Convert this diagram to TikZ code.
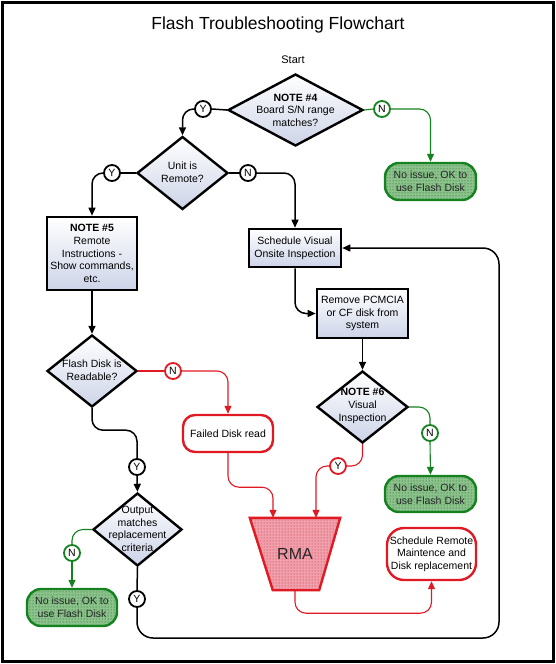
\documentclass[tikz,border=0pt]{standalone}
\usepackage{fontspec}
\setmainfont{Liberation Sans}
\usetikzlibrary{shapes.geometric,arrows.meta,calc,patterns}
\definecolor{gdk}{RGB}{20,130,30}
\definecolor{rdk}{RGB}{225,25,35}
\definecolor{bfill}{RGB}{205,212,232}
\definecolor{gfill}{RGB}{140,195,140}
\definecolor{rfill}{RGB}{238,160,172}
\begin{document}
\begin{tikzpicture}[x=1pt,y=-1pt,
  every node/.style={font=\fontsize{10.5}{12.6}\selectfont, align=center, inner sep=0pt},
  dia/.style={shape=diamond, draw, line width=2.4pt, top color=white, bottom color=bfill},
  procbox/.style={draw, line width=2.6pt, top color=white, bottom color=bfill},
  yncirc/.style={circle, draw=#1, line width=1.8pt, fill=white, minimum size=16pt, text=black},
  gterm/.style={draw=gdk, line width=2.4pt, rounded corners=14pt, preaction={fill=gfill}, pattern=dots, pattern color=gdk!70!black, text=black!85},
  rterm/.style={draw=rdk, line width=2.4pt, rounded corners=14pt, fill=white},
  blk/.style={draw=black, line width=1.5pt, rounded corners=11pt},
  grn/.style={draw=gdk, line width=1.1pt, rounded corners=11pt},
  red/.style={draw=rdk, line width=1.1pt, rounded corners=11pt},
  tip/.style={-{Triangle[length=8pt,width=7pt]}}
]
\useasboundingbox (0,0) rectangle (556,664);
\draw[line width=3pt] (2.5,2.5) rectangle (553.5,661.5);

\node[font=\fontsize{17.5}{20}\selectfont] (title) at (278,25) {Flash Troubleshooting Flowchart};
\node[font=\fontsize{11}{13}\selectfont] (start) at (293,60) {Start};

% diamonds
\node[dia, minimum width=135pt, minimum height=72pt] (d1) at (295.5,110) {};
\node at (295.5,110) {\textbf{NOTE \#4}\\Board S/N range\\matches?};
\node[dia, minimum width=91pt, minimum height=73pt] (d2) at (182.5,173) {};
\node at (182.5,172) {Unit is\\Remote?};
\node[dia, minimum width=90pt, minimum height=72pt] (dfr) at (92,371) {};
\node at (92,370) {Flash Disk is\\Readable?};
\node[dia, minimum width=91pt, minimum height=72pt] (d3) at (362.5,407) {};
\node at (362.5,406) {\textbf{NOTE \#6}\\Visual\\Inspection};
\node[dia, minimum width=89pt, minimum height=73pt] (dout) at (137.5,529.5) {};
\node at (137.5,529) {Output\\matches\\replacement\\criteria};

% process boxes
\node[procbox, minimum width=90pt, minimum height=73pt] (b5) at (92,253.5) {\textbf{NOTE \#5}\\Remote\\Instructions -\\Show commands,\\etc.};
\node[procbox, minimum width=92pt, minimum height=38pt] (bsv) at (295,248) {Schedule Visual\\Onsite Inspection};
\node[procbox, minimum width=91pt, minimum height=49pt] (brm) at (362.5,313.5) {Remove PCMCIA\\or CF disk from\\system};

% terminals
\node[gterm, minimum width=91pt, minimum height=37pt] (t1) at (430.5,181.5) {No issue, OK to\\use Flash Disk};
\node[gterm, minimum width=91pt, minimum height=36pt] (t2) at (430.5,494) {No issue, OK to\\use Flash Disk};
\node[gterm, minimum width=90pt, minimum height=37pt] (t3) at (72,607.5) {No issue, OK to\\use Flash Disk};
\node[rterm, minimum width=90pt, minimum height=37pt, rounded corners=12pt] (ffail) at (228,433.5) {Failed Disk read};
\node[rterm, minimum width=89pt, minimum height=52pt, rounded corners=17pt] (bsr) at (431.5,554) {Schedule Remote\\Maintence and\\Disk replacement};

% RMA
\node[minimum width=90pt, minimum height=72pt] (rma) at (295,554) {};
\draw[draw=rdk, line width=2.4pt, preaction={fill=rfill}, pattern=dots, pattern color=rdk]
  (rma.north west) -- (rma.north east) -- ($(rma.south east)+(-21,0)$) -- ($(rma.south west)+(23,0)$) -- cycle;
\node[font=\fontsize{16}{16}\selectfont, text=black!85] at (rma) {RMA};
\coordinate (rmaL) at ($(rma.north)+(-22,0)$);
\coordinate (rmaR) at ($(rma.north)+(21,0)$);
\coordinate (loopc) at (499,638);

% Y/N circles
\node[yncirc=black] (y1) at (203,109) {Y};
\node[yncirc=gdk] (n1) at (382,109) {N};
\node[yncirc=black] (y2) at (112,173) {Y};
\node[yncirc=black] (n2) at (248,173) {N};
\node[yncirc=rdk] (nfr) at (173,371) {N};
\node[yncirc=gdk] (n3) at (430,433) {N};
\node[yncirc=rdk] (y3) at (338,466) {Y};
\node[yncirc=black] (yfr) at (137,467) {Y};
\node[yncirc=gdk] (nout) at (72,553) {N};
\node[yncirc=black] (yout) at (137,599) {Y};

% connectors
\draw[blk] (d1.west) -- (y1.east);
\draw[blk, tip] (y1.west) -| (d2.north);
\draw[grn] (d1.east) -- (n1.west);
\draw[grn, tip] (n1.east) -| (t1.north);
\draw[blk] (d2.west) -- (y2.east);
\draw[blk, tip] (y2.west) -| (b5.north);
\draw[blk] (d2.east) -- (n2.west);
\draw[blk, tip] (n2.east) -| (bsv.north);
\draw[blk, tip] (b5.south) -- (dfr.north);
\draw[blk, tip] (bsv.south) |- (brm.west);
\draw[blk, tip] (brm.south) -- (d3.north);
\draw[grn] (d3.east) -| (n3.north);
\draw[grn, tip] (n3.south) -- (t2.north);
\draw[red] (d3.south) |- (y3.east);
\draw[red, tip] (y3.west) -| (rmaR);
\draw[red] (dfr.east) -- (nfr.west);
\draw[red, tip] (nfr.east) -| (ffail.north);
\draw[red, tip] (ffail.south) -- ++(0,34) -| (rmaL);
\draw[red, tip] (rma.south) -- ++(0,23) -| (bsr.south);
\draw[blk] (dfr.south) -- ++(0,22) -| (yfr.north);
\draw[blk, tip] (yfr.south) -- (dout.north);
\draw[grn] (dout.west) -| (nout.north);
\draw[grn, tip] (nout.south) -- (t3.north);
\draw[blk] (dout.south) -- (yout.north);
\draw[blk, tip, rounded corners=16pt] (yout.south) |- (loopc) |- (bsv.east);
\end{tikzpicture}
\end{document}
